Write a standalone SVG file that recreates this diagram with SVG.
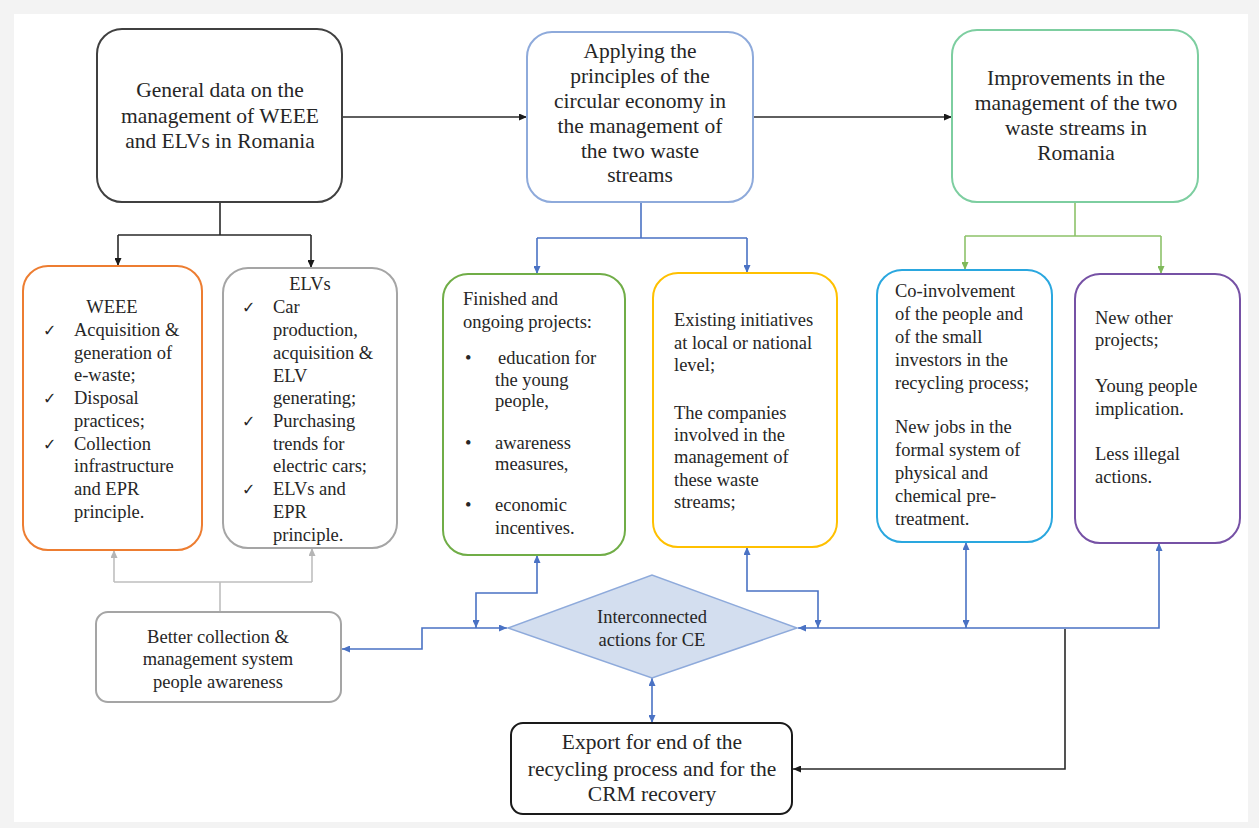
<svg xmlns="http://www.w3.org/2000/svg" width="1259" height="828" viewBox="0 0 1259 828">
<style>
.t{font-family:"Liberation Serif","Times New Roman",serif;fill:#262626}
.big{font-size:21.5px}
.mid{font-size:18.5px}
.ck{font-family:"DejaVu Sans",sans-serif;font-size:16px;fill:#262626}
.box{fill:#fff;stroke-width:2}
.c{fill:none;stroke-width:1.6}
.blk{stroke:#2a2a2a}
.blu{stroke:#4a72c4}
.grn{stroke:#8dc26a}
.gry{stroke:#bfbfbf}
</style>
<defs>
<marker id="ak" markerWidth="8" markerHeight="7" refX="8" refY="3.5" orient="auto-start-reverse" markerUnits="userSpaceOnUse"><path d="M0,0 L8,3.5 L0,7 z" fill="#1a1a1a"/></marker>
<marker id="ab" markerWidth="8" markerHeight="7" refX="8" refY="3.5" orient="auto-start-reverse" markerUnits="userSpaceOnUse"><path d="M0,0 L8,3.5 L0,7 z" fill="#4a72c4"/></marker>
<marker id="ag" markerWidth="8" markerHeight="7" refX="8" refY="3.5" orient="auto-start-reverse" markerUnits="userSpaceOnUse"><path d="M0,0 L8,3.5 L0,7 z" fill="#7fb95a"/></marker>
<marker id="ay" markerWidth="8" markerHeight="7" refX="8" refY="3.5" orient="auto-start-reverse" markerUnits="userSpaceOnUse"><path d="M0,0 L8,3.5 L0,7 z" fill="#b5b5b5"/></marker>
</defs>
<rect x="0" y="0" width="1259" height="828" fill="#f3f3f3"/>
<rect x="14" y="14" width="1234" height="808" fill="#fff"/>

<g id="connectors">
<path class="c blk" d="M342,117 H527" marker-end="url(#ak)"/>
<path class="c blk" d="M753,117 H952" marker-end="url(#ak)"/>
<path class="c blk" d="M220,202 V235 M118,235 H311"/>
<path class="c blk" d="M118,235 V266" marker-end="url(#ak)"/>
<path class="c blk" d="M311,235 V268" marker-end="url(#ak)"/>
<path class="c blk" d="M1065,629 V769 H793" marker-end="url(#ak)"/>

<path class="c blu" d="M641,202 V238 M537,238 H747"/>
<path class="c blu" d="M537,238 V274" marker-end="url(#ab)"/>
<path class="c blu" d="M747,238 V273" marker-end="url(#ab)"/>
<path class="c blu" d="M476,628 V593 H537 V555" marker-start="url(#ab)" marker-end="url(#ab)"/>
<path class="c blu" d="M818,628 V591 H747 V547" marker-start="url(#ab)" marker-end="url(#ab)"/>
<path class="c blu" d="M342,649 H422 V628 H507" marker-start="url(#ab)" marker-end="url(#ab)"/>
<path class="c blu" d="M1159,543 V628 H798" marker-start="url(#ab)" marker-end="url(#ab)"/>
<path class="c blu" d="M966,628 V542" marker-start="url(#ab)" marker-end="url(#ab)"/>
<path class="c blu" d="M652,678 V723" marker-start="url(#ab)" marker-end="url(#ab)"/>

<path class="c grn" d="M1075,202 V236 M965,236 H1161"/>
<path class="c grn" d="M965,236 V270" marker-end="url(#ag)"/>
<path class="c grn" d="M1161,236 V274" marker-end="url(#ag)"/>

<path class="c gry" d="M220,612 V582 M114,582 H312"/>
<path class="c gry" d="M114,582 V550" marker-end="url(#ay)"/>
<path class="c gry" d="M312,582 V548" marker-end="url(#ay)"/>
</g>

<g id="general">
<rect class="box" x="97" y="29" width="245" height="173" rx="25" stroke="#404040"/>
<text class="t big" text-anchor="middle" x="220" y="97">General data on the</text>
<text class="t big" text-anchor="middle" x="220" y="123">management of WEEE</text>
<text class="t big" text-anchor="middle" x="220" y="148">and ELVs in Romania</text>
</g>

<g id="applying">
<rect class="box" x="527" y="32" width="226" height="170" rx="25" stroke="#8eaadb"/>
<text class="t big" text-anchor="middle" x="640" y="58">Applying the</text>
<text class="t big" text-anchor="middle" x="640" y="83">principles of the</text>
<text class="t big" text-anchor="middle" x="640" y="108">circular economy in</text>
<text class="t big" text-anchor="middle" x="640" y="133">the management of</text>
<text class="t big" text-anchor="middle" x="640" y="158">the two waste</text>
<text class="t big" text-anchor="middle" x="640" y="182">streams</text>
</g>

<g id="improvements">
<rect class="box" x="952" y="30" width="246" height="172" rx="25" stroke="#7dcea0"/>
<text class="t big" text-anchor="middle" x="1076" y="85">Improvements in the</text>
<text class="t big" text-anchor="middle" x="1076" y="110">management of the two</text>
<text class="t big" text-anchor="middle" x="1076" y="135">waste streams in</text>
<text class="t big" text-anchor="middle" x="1076" y="160">Romania</text>
</g>

<g id="weee">
<rect class="box" x="23" y="266" width="179" height="284" rx="25" stroke="#ed7d31"/>
<text class="t mid" text-anchor="middle" x="112" y="313">WEEE</text>
<text class="ck" x="43" y="336">✓</text>
<text class="ck" x="43" y="404">✓</text>
<text class="ck" x="43" y="450">✓</text>
<text class="t mid" x="74" y="336">Acquisition &amp;</text>
<text class="t mid" x="74" y="359">generation of</text>
<text class="t mid" x="74" y="381">e-waste;</text>
<text class="t mid" x="74" y="404">Disposal</text>
<text class="t mid" x="74" y="427">practices;</text>
<text class="t mid" x="74" y="450">Collection</text>
<text class="t mid" x="74" y="472">infrastructure</text>
<text class="t mid" x="74" y="495">and EPR</text>
<text class="t mid" x="74" y="518">principle.</text>
</g>

<g id="elvs">
<rect class="box" x="223" y="268" width="174" height="280" rx="25" stroke="#a5a5a5"/>
<text class="t mid" text-anchor="middle" x="310" y="290">ELVs</text>
<text class="ck" x="242" y="313">✓</text>
<text class="ck" x="242" y="427">✓</text>
<text class="ck" x="242" y="495">✓</text>
<text class="t mid" x="273" y="313">Car</text>
<text class="t mid" x="273" y="336">production,</text>
<text class="t mid" x="273" y="359">acquisition &amp;</text>
<text class="t mid" x="273" y="382">ELV</text>
<text class="t mid" x="273" y="404">generating;</text>
<text class="t mid" x="273" y="427">Purchasing</text>
<text class="t mid" x="273" y="450">trends for</text>
<text class="t mid" x="273" y="472">electric cars;</text>
<text class="t mid" x="273" y="495">ELVs and</text>
<text class="t mid" x="273" y="518">EPR</text>
<text class="t mid" x="273" y="541">principle.</text>
</g>

<g id="projects">
<rect class="box" x="443" y="274" width="182" height="281" rx="25" stroke="#70ad47"/>
<text class="t mid" x="463" y="305">Finished and</text>
<text class="t mid" x="463" y="328">ongoing projects:</text>
<text class="t mid" x="465" y="364">•</text>
<text class="t mid" x="465" y="449">•</text>
<text class="t mid" x="465" y="511">•</text>
<text class="t mid" x="498" y="364">education for</text>
<text class="t mid" x="495" y="386">the young</text>
<text class="t mid" x="495" y="407">people,</text>
<text class="t mid" x="495" y="449">awareness</text>
<text class="t mid" x="495" y="470">measures,</text>
<text class="t mid" x="495" y="511">economic</text>
<text class="t mid" x="495" y="534">incentives.</text>
</g>

<g id="initiatives">
<rect class="box" x="653" y="273" width="184" height="274" rx="25" stroke="#ffc000"/>
<text class="t mid" x="674" y="326">Existing initiatives</text>
<text class="t mid" x="674" y="349">at local or national</text>
<text class="t mid" x="674" y="371">level;</text>
<text class="t mid" x="674" y="419">The companies</text>
<text class="t mid" x="674" y="441">involved in the</text>
<text class="t mid" x="674" y="463">management of</text>
<text class="t mid" x="674" y="486">these waste</text>
<text class="t mid" x="674" y="508">streams;</text>
</g>

<g id="coinvolvement">
<rect class="box" x="877" y="270" width="175" height="272" rx="25" stroke="#2aa7df"/>
<text class="t mid" x="895" y="297">Co-involvement</text>
<text class="t mid" x="895" y="320">of the people and</text>
<text class="t mid" x="895" y="343">of the small</text>
<text class="t mid" x="895" y="366">investors in the</text>
<text class="t mid" x="895" y="389">recycling process;</text>
<text class="t mid" x="895" y="433">New jobs in the</text>
<text class="t mid" x="895" y="456">formal system of</text>
<text class="t mid" x="895" y="479">physical and</text>
<text class="t mid" x="895" y="502">chemical pre-</text>
<text class="t mid" x="895" y="525">treatment.</text>
</g>

<g id="newprojects">
<rect class="box" x="1075" y="274" width="165" height="269" rx="25" stroke="#7651a5"/>
<text class="t mid" x="1095" y="324">New other</text>
<text class="t mid" x="1095" y="346">projects;</text>
<text class="t mid" x="1095" y="392">Young people</text>
<text class="t mid" x="1095" y="415">implication.</text>
<text class="t mid" x="1095" y="460">Less illegal</text>
<text class="t mid" x="1095" y="483">actions.</text>
</g>

<g id="interconnected">
<polygon points="508,628 652,575 797,628 652,678" fill="#d3deef" stroke="#8eaadb" stroke-width="1.5"/>
<text class="t mid" text-anchor="middle" x="652" y="623">Interconnected</text>
<text class="t mid" text-anchor="middle" x="652" y="646">actions for CE</text>
</g>

<g id="better">
<rect class="box" x="96" y="612" width="245" height="90" rx="12" stroke="#a5a5a5"/>
<text class="t mid" text-anchor="middle" x="218" y="643">Better collection &amp;</text>
<text class="t mid" text-anchor="middle" x="218" y="665">management system</text>
<text class="t mid" text-anchor="middle" x="218" y="688">people awareness</text>
</g>

<g id="export">
<rect class="box" x="511" y="723" width="281" height="91" rx="12" stroke="#1a1a1a" stroke-width="2.5"/>
<text class="t big" text-anchor="middle" x="652" y="749">Export for end of the</text>
<text class="t big" text-anchor="middle" x="652" y="776">recycling process and for the</text>
<text class="t big" text-anchor="middle" x="652" y="801">CRM recovery</text>
</g>
</svg>
